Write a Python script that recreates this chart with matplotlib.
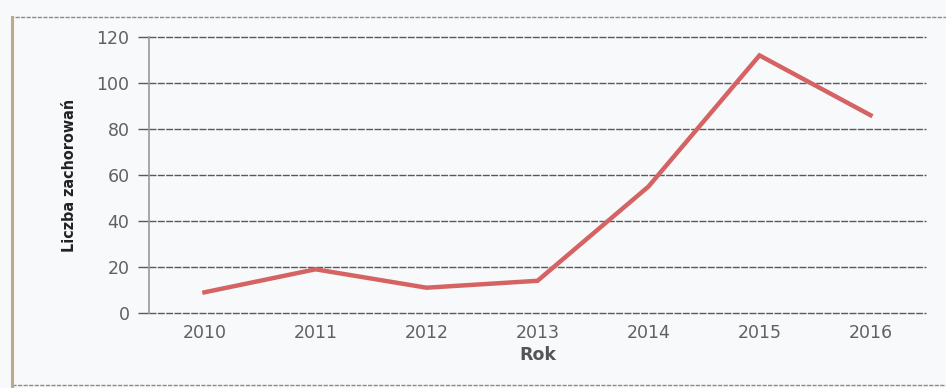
import matplotlib
matplotlib.use("Agg")
import matplotlib.pyplot as plt
from matplotlib.patches import Rectangle

# roczna liczba zachorowań
lata = ['2010', '2011', '2012', '2013', '2014', '2015', '2016']
zachorowania = [9, 19, 11, 14, 55, 112, 86]
y_ticks = [0, 20, 40, 60, 80, 100, 120]

fig = plt.figure(figsize=(9.46, 3.88), dpi=100)
fig.patch.set_facecolor('#f8f9fb')
ax = fig.add_axes([149 / 946, 1 - 313 / 388, 777 / 946, 276 / 388])
ax.set_facecolor('#f8f9fb')

# ramka wykresu
fig.patches.append(Rectangle((12 / 946, 3 / 388), 1.2, 368 / 388,
                             transform=fig.transFigure, fill=False,
                             edgecolor='#8a8a8a', linewidth=1.0,
                             linestyle=(0, (3, 1))))
fig.add_artist(plt.Line2D([12 / 946, 12 / 946], [0, 1 - 17 / 388],
                          transform=fig.transFigure, color='#b8ac8c',
                          linewidth=2.2))

x = range(len(lata))
ax.plot(x, zachorowania, color='#d66363', linewidth=3.2,
        solid_joinstyle='miter', zorder=3)

ax.set_xlim(-0.5, len(lata) - 0.5)
ax.set_ylim(0, 120)
ax.set_yticks(y_ticks)
ax.set_xticks(list(x))
ax.set_xticklabels(lata)
ax.yaxis.grid(True, color='#5a5a5a', linewidth=1.0, linestyle=(0, (5, 1)))
for gl in ax.get_ygridlines():
    gl.set_clip_on(False)
ax.set_axisbelow(True)

for side in ['top', 'right', 'bottom']:
    ax.spines[side].set_visible(False)
ax.spines['left'].set_color('#9a9a9a')
ax.spines['left'].set_linewidth(1.2)

ax.tick_params(axis='y', length=8, color='#5a5a5a', width=1.0,
               labelsize=12.5, labelcolor='#606060', pad=6)
ax.tick_params(axis='x', length=0, labelsize=12.5, labelcolor='#606060', pad=8)

ax.set_xlabel('Rok', fontsize=12.5, fontweight='bold', color='#555555', labelpad=3)
ax.set_ylabel('Liczba zachorowań', fontsize=11.5, fontweight='bold',
              fontstretch='condensed', color='#222222', labelpad=14)

fig.savefig('out.png', dpi=100, facecolor=fig.get_facecolor())
